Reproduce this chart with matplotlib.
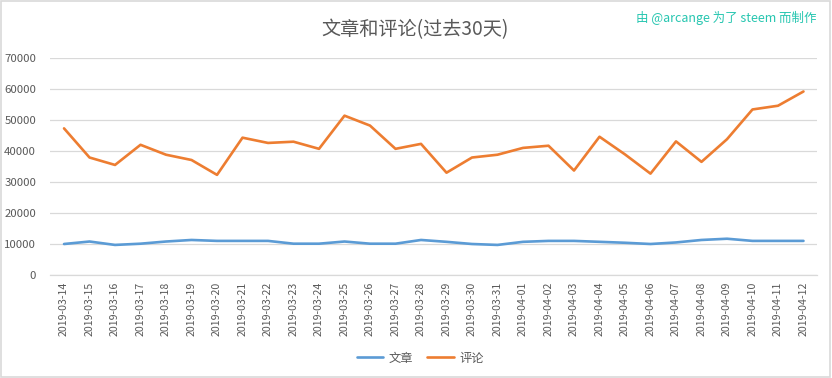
# 文章和评论 chart (Excel style line chart)

import numpy as np
import matplotlib.pyplot as plt
from matplotlib.patches import Rectangle

plt.rcParams['font.family'] = ['Noto Sans CJK SC', 'DejaVu Sans']

dates = ["2019-03-14", "2019-03-15", "2019-03-16", "2019-03-17", "2019-03-18",
         "2019-03-19", "2019-03-20", "2019-03-21", "2019-03-22", "2019-03-23",
         "2019-03-24", "2019-03-25", "2019-03-26", "2019-03-27", "2019-03-28",
         "2019-03-29", "2019-03-30", "2019-03-31", "2019-04-01", "2019-04-02",
         "2019-04-03", "2019-04-04", "2019-04-05", "2019-04-06", "2019-04-07",
         "2019-04-08", "2019-04-09", "2019-04-10", "2019-04-11", "2019-04-12"]

posts = [10000, 10800, 9700, 10100, 10800, 11300, 11000, 11000, 11000, 10100,
         10100, 10800, 10100, 10100, 11300, 10700, 10000, 9700, 10700, 11000,
         11000, 10700, 10400, 10000, 10500, 11300, 11700, 11000, 11000, 11000]

comments = [47300, 37900, 35500, 42000, 38800, 37100, 32300, 44300, 42600, 43000,
            40700, 51400, 48200, 40700, 42300, 33000, 37900, 38800, 41000, 41700,
            33700, 44600, 38900, 32700, 43100, 36500, 43800, 53400, 54600, 59200]

grey = '#595959'

fig = plt.figure(figsize=(8.32, 3.78), dpi=100)
ax = fig.add_axes([50/832, 1 - 275/378, 767/832, 217/378])

x = np.arange(len(dates))
ax.plot(x, posts, color='#5B9BD5', lw=1.9, label='文章', solid_capstyle='round')
ax.plot(x, comments, color='#ED7D31', lw=1.9, label='评论', solid_capstyle='round')

ax.set_xlim(-0.55, len(dates) - 0.47)
ax.set_ylim(0, 70000)
ax.set_yticks(range(0, 70001, 10000))
ax.set_xticks(x)
ax.set_xticklabels(dates, rotation=90, fontsize=7.6, color=grey)
ax.tick_params(axis='y', labelsize=8.2, labelcolor=grey, length=0, pad=10)
ax.tick_params(axis='x', length=0, pad=5)

ax.grid(axis='y', color='#D9D9D9', lw=0.9)
ax.set_axisbelow(True)
for s in ['top', 'right', 'left']:
    ax.spines[s].set_visible(False)
ax.spines['bottom'].set_color('#D9D9D9')
ax.spines['bottom'].set_linewidth(0.9)

fig.text(415/832, 1 - 30/378, '文章和评论(过去30天)', ha='center', va='center',
         fontsize=13.8, color=grey)
fig.text(817/832, 1 - 18/378, '由 @arcange 为了 steem 而制作', ha='right', va='center',
         fontsize=9, color='#26C6B0')

fig.legend(loc='center', bbox_to_anchor=(0.505, 1 - 358/378), ncol=2, frameon=False,
           fontsize=8.8, labelcolor=grey, handlelength=2.2, columnspacing=1.2,
           handletextpad=0.4)

fig.patches.append(Rectangle((0.001, 0.002), 0.997, 0.995, transform=fig.transFigure,
                             fill=False, edgecolor='#D9D9D9', lw=1.2))

fig.savefig('out.png', dpi=100)
